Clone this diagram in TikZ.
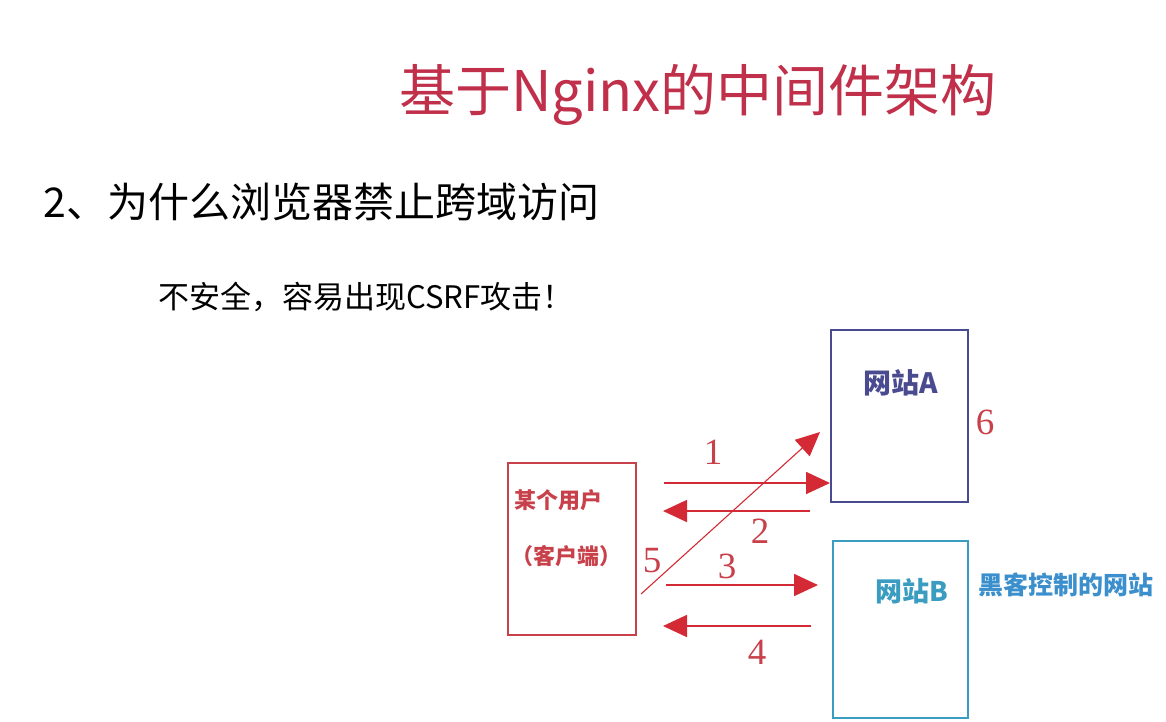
\documentclass[tikz,border=0pt]{standalone}
\usepackage{fontspec}
\setmainfont{Liberation Serif}
\newfontfamily\cjk{Noto Sans CJK SC}
\usetikzlibrary{arrows.meta}
\definecolor{titlered}{HTML}{C0304A}
\definecolor{arred}{HTML}{D42A35}
\definecolor{boxred}{HTML}{C8404A}
\definecolor{navy}{HTML}{4A4A90}
\definecolor{teal}{HTML}{3A9CC0}
\definecolor{skyb}{HTML}{3A8FCC}
\tikzset{
  flow/.style={arred, line width=1.8pt, -{Triangle[length=24pt,width=22pt]}},
  num/.style={text=boxred, font=\fontsize{37}{37}\selectfont},
  box/.style={draw, line width=1.4pt},
}
\begin{document}
\begin{tikzpicture}[x=1pt,y=-1pt]
\useasboundingbox (0,0) rectangle (1166,721);
\node[text=titlered, font=\cjk\fontsize{56}{56}\selectfont] (title) at (698,95) {基于Nginx的中间件架构};
\node[anchor=west, font=\cjk\fontsize{41}{41}\selectfont] (q) at (40,202) {2、为什么浏览器禁止跨域访问};
\node[anchor=west, font=\cjk\fontsize{31}{31}\selectfont] (a) at (155,297) {不安全，容易出现CSRF攻击！};

\draw[box, boxred] (508,463) rectangle (636,635);
\node[text=boxred, font=\cjk\bfseries\fontsize{22}{22}\selectfont] (user) at (558,500) {某个用户};
\node[text=boxred, font=\cjk\bfseries\fontsize{22}{22}\selectfont] (client) at (566,556) {（客户端）};
\draw[box, navy] (831,330) rectangle (968,502);
\node[text=navy, font=\cjk\bfseries\fontsize{28}{28}\selectfont] (sa) at (901,383) {网站A};
\draw[box, teal] (833,541) rectangle (968,718);
\node[text=teal, font=\cjk\bfseries\fontsize{27}{27}\selectfont] (sb) at (912,591) {网站B};
\node[text=skyb, font=\cjk\bfseries\fontsize{25}{25}\selectfont] (hk) at (1066,585) {黑客控制的网站};

\coordinate (a1s) at (664,483); \coordinate (a1e) at (830,483);
\coordinate (a2s) at (810,511); \coordinate (a2e) at (663,511);
\coordinate (a3s) at (666,585); \coordinate (a3e) at (818,585);
\coordinate (a4s) at (811,626); \coordinate (a4e) at (663,626);
\coordinate (a5s) at (641,594); \coordinate (a5e) at (820,432);
\draw[flow] (a1s) -- (a1e);
\draw[flow] (a2s) -- (a2e);
\draw[flow] (a3s) -- (a3e);
\draw[flow] (a4s) -- (a4e);
\draw[flow, line width=1.1pt] (a5s) -- (a5e);
\node[num] (n1) at (713,452) {1};
\node[num] (n2) at (760,531) {2};
\node[num] (n3) at (727,566) {3};
\node[num] (n4) at (757,652) {4};
\node[num] (n5) at (652,561) {5};
\node[num] (n6) at (985,422) {6};
\end{tikzpicture}
\end{document}
